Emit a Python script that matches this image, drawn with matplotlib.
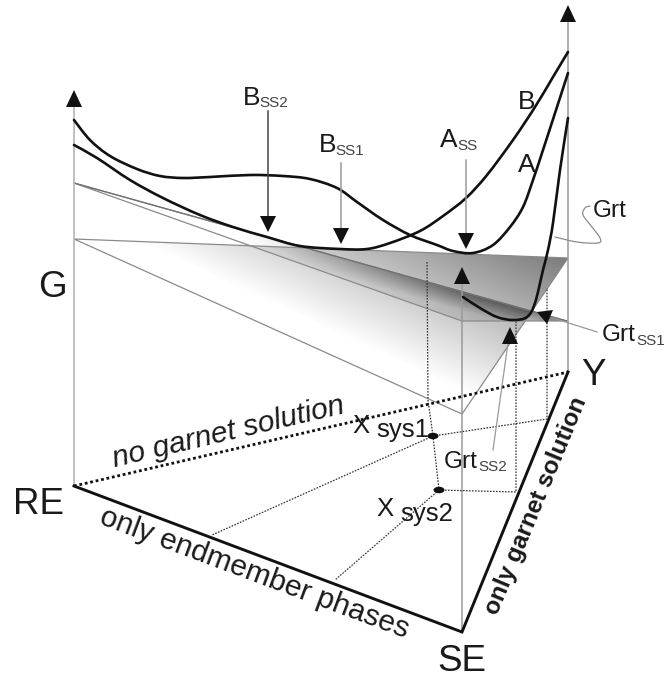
import numpy as np
import matplotlib
matplotlib.use("Agg")
import matplotlib.pyplot as plt
from matplotlib.path import Path
from matplotlib.patches import PathPatch, Polygon, Ellipse

plt.rcParams['font.family'] = ['Liberation Sans', 'DejaVu Sans']

W, H = 666, 679

# corners of the base triangle and the planes (image pixels)
RE = (74, 486); SE = (462, 632); Y = (568, 372)
plane1 = [(74, 239), (568, 258), (462, 414)]
plane2 = [(74, 183), (462, 321), (567, 321)]

# energy curves
curve_B = [(74,145),(97,158),(130,180),(163,198),(200,215),(233,227),(267,237),(300,246),(340,249),
           (367,249),(390,243),(420,231),(443,216),(466,198),(487,175),(513,140),(535,107),(553,77),(568,52)]
curve_A = [(74,120),(90,140),(110,156),(137,169),(160,176),(183,178),(210,177),(250,175),(283,176),
           (310,179),(337,188),(357,202),(383,220),(410,235),(437,245),(453,251),(473,253),(493,245),
           (510,227),(523,207),(533,180),(543,150),(557,107),(568,73)]
curve_grt = [(463,297),(480,308),(497,317),(513,320),(527,317),(535,303),(543,270),(548,250),
             (553,223),(560,170),(568,118)]
squiggle = [(555,237),(577,242),(598,243),(600,238),(592,227),(583,215),(585,208),(590,206)]

# dotted construction lines
dot_lines = [
    [(427,262),(428,400),(433,436),(439,490)],
    [(433,436),(547,419),(547,288)],
    [(439,490),(516,492),(516,322)],
    [(433,436),(212,535)],
    [(439,490),(335,580)],
]
points = [(433,436),(439,490)]

# arrows
arrows_dn = [(268,111,232),(341,163,244),(466,160,249)]
arrow_up = [(74,90),(568,5),(462,267),(510,327)]
left_arrow = [(537,312),(553,310),(547,324)]
leaders = [[(553,318),(597,332)],[(508,343),(493,450)]]

# text: (main, sub, x, baseline, subx, subbase)
labels_sub = [("B","SS2",243,105,259,107),("B","SS1",319,152,335,155),("A","SS",440,147,457,150),
              ("Grt","SS1",602,341,636,345),("Grt","SS2",444,468,478,471)]
labels_plain = [("B",518,109,19),("A",518,172,19),("Grt",593,217,17.6),
                ("X",352,433,18.5),("sys1",376,437,18.5),("X",376,516,18.5),("sys2",400,521,18.5)]
labels_big = [("G",38,297),("RE",13,514),("SE",437,671),("Y",581,385)]
labels_rot = [("no garnet solution",115,467,13.2,21.5,'normal','italic'),
              ("only endmember phases",98,523,-20.5,21.5,'normal','normal'),
              ("only garnet solution",497,616,67.5,17.6,'bold','normal')]

fig = plt.figure(figsize=(W/100, H/100), dpi=100)
ax = fig.add_axes([0, 0, 1, 1])
ax.set_xlim(0, W); ax.set_ylim(H, 0); ax.axis('off')

xx, yy = np.meshgrid(np.arange(0, W), np.arange(0, H))

def grad_image(alpha, poly):
    img = np.zeros((H, W, 4))
    img[..., 3] = alpha
    im = ax.imshow(img, extent=(0, W, H, 0), interpolation='bilinear', zorder=1, aspect='auto')
    im.set_clip_path(Polygon(poly, transform=ax.transData))

# plane 1 shading
t = ((xx-125)*0.42 - (yy-236)*0.91) / 160
grad_image(np.clip(t, 0, 1.1)*0.5, plane1)

# plane 2 wedge shading
ux, uy = np.array(plane2[2]) - np.array(plane2[0])
n = np.hypot(ux, uy)
d = ((xx-plane2[0][0])*uy - (yy-plane2[0][1])*ux) / n
fade = np.clip((xx-240)/240, 0, 1)
grad_image(fade*np.clip(0.5 - np.abs(d)/45, 0.1, 0.5), plane2)

gray = '#9a9a9a'
for poly in (plane1, plane2):
    ax.add_patch(Polygon(poly, closed=True, fill=False, ec='#8a8a8a', lw=0.9, zorder=2))
ax.plot([plane2[0][0], plane2[2][0]], [plane2[0][1], plane2[2][1]], color='#707070', lw=0.9, zorder=2)

# verticals
ax.plot([RE[0]]*2, [105, RE[1]], color='#b5b5b5', lw=1.2, zorder=2)
ax.plot([Y[0]]*2, [23, Y[1]], color=gray, lw=1.1, zorder=2)
ax.plot([SE[0]]*2, [283, SE[1]], color=gray, lw=1.1, zorder=2)

def smooth(pts, **kw):
    p = np.array(pts, float)
    q = np.vstack([p[0], p, p[-1]])
    verts = [p[0]]; codes = [Path.MOVETO]
    for i in range(1, len(q)-2):
        verts += [q[i]+(q[i+1]-q[i-1])/6, q[i+1]-(q[i+2]-q[i])/6, q[i+1]]
        codes += [Path.CURVE4]*3
    ax.add_patch(PathPatch(Path(verts, codes), fill=False, capstyle='round', **kw))

smooth(curve_A, ec='#111111', lw=1.9, zorder=5)
smooth(curve_B, ec='#111111', lw=1.9, zorder=5)
smooth(curve_grt, ec='#111111', lw=1.9, zorder=5)
smooth(squiggle, ec='#8c8c8c', lw=0.9, zorder=5)

# base triangle
ax.plot(*zip(RE, SE, Y), color='#111111', lw=2.1, zorder=6, solid_joinstyle='miter')
ax.plot(*zip(RE, Y), color='#111111', lw=2.0, ls=(0, (1, 1)), zorder=6)

for seg in dot_lines:
    ax.plot(*zip(*seg), color='#333333', lw=0.9, ls=(0, (1.3, 1.1)), zorder=4)
for p in points:
    ax.add_patch(Ellipse(p, 11, 6.5, fc='#111111', ec='none', zorder=7))

for x, y0, tip in arrows_dn:
    ax.plot([x, x], [y0, tip-16], color='#444444' if x == 268 else gray, lw=1.1, zorder=6)
    ax.add_patch(Polygon([(x-8, tip-16), (x+8, tip-16), (x, tip)], fc='#111111', ec='none', zorder=7))
for x, tip in arrow_up:
    ax.add_patch(Polygon([(x-8, tip+17), (x+8, tip+17), (x, tip)], fc='#111111', ec='none', zorder=7))
ax.add_patch(Polygon(left_arrow, fc='#111111', ec='none', zorder=7))
for seg in leaders:
    ax.plot(*zip(*seg), color='#9a9a9a', lw=0.9, zorder=6)

tc = '#1a1a1a'
for m, s, x, y, sx, sy in labels_sub:
    size = 19 if m in 'AB' else 17.6
    ax.text(x, y, m, fontsize=size, color=tc, va='baseline', ha='left', zorder=8)
    ax.text(sx, sy, s, fontsize=11, color='#444444', va='baseline', ha='left', zorder=8)
for s, x, y, size in labels_plain:
    ax.text(x, y, s, fontsize=size, color=tc, va='baseline', ha='left', zorder=8)
for s, x, y in labels_big:
    ax.text(x, y, s, fontsize=26.5, color=tc, va='baseline', ha='left', zorder=8)
for s, x, y, rot, size, wt, st in labels_rot:
    ax.text(x, y, s, fontsize=size, color=tc, rotation=rot, rotation_mode='anchor',
            va='baseline', ha='left', fontweight=wt, fontstyle=st, zorder=8)

fig.savefig('out.png', dpi=100)
